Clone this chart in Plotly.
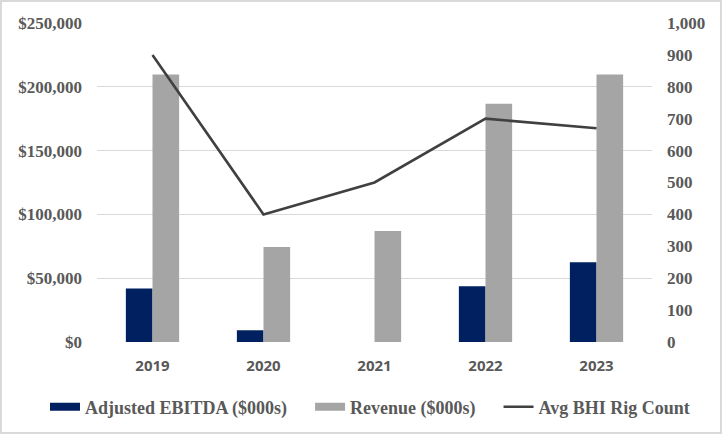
import plotly.graph_objects as go

years = ["2019", "2020", "2021", "2022", "2023"]
ebitda = [42000, 9200, 0, 43600, 62500]
revenue = [209600, 74500, 87000, 186700, 209600]
rig_count = [900, 400, 500, 700, 670]

left_ticks = [0, 50000, 100000, 150000, 200000, 250000]
left_labels = ["$0", "$50,000", "$100,000", "$150,000", "$200,000", "$250,000"]
right_ticks = list(range(0, 1001, 100))
right_labels = ["0", "100", "200", "300", "400", "500", "600", "700", "800", "900", "1,000"]

NAVY = "#002060"
GREY = "#A5A5A5"
LINE = "#404040"
TXT = "#595959"

W, H = 722, 434
L, R, T, B = 97, 70, 23, 92
pw, ph = W - L - R, H - T - B
PAD = "\u00a0" * 4

fig = go.Figure()
fig.add_trace(go.Bar(x=years, y=ebitda, name="Adjusted EBITDA ($000s)",
                     marker=dict(color=NAVY, line=dict(width=0)), showlegend=False))
fig.add_trace(go.Bar(x=years, y=revenue, name="Revenue ($000s)",
                     marker=dict(color=GREY, line=dict(width=0)), showlegend=False))
fig.add_trace(go.Scatter(x=years, y=rig_count, name="Avg BHI Rig Count", yaxis="y2",
                         mode="lines", line=dict(color=LINE, width=2.6), showlegend=False))

# legend entries (no data)
fig.add_trace(go.Scatter(x=[None], y=[None], mode="lines", name="Adjusted EBITDA ($000s)" + PAD,
                         line=dict(color=NAVY, width=8)))
fig.add_trace(go.Scatter(x=[None], y=[None], mode="lines", name="Revenue ($000s)" + PAD,
                         line=dict(color=GREY, width=8)))
fig.add_trace(go.Scatter(x=[None], y=[None], mode="lines", name="Avg BHI Rig Count",
                         line=dict(color=LINE, width=2.5)))

fig.update_layout(
    width=W, height=H,
    margin=dict(l=L, r=R, t=T, b=B, autoexpand=False),
    paper_bgcolor="white", plot_bgcolor="white",
    barmode="group", bargap=0.52, bargroupgap=0,
    xaxis=dict(type="category", showgrid=False, zeroline=False, showline=False, ticks="",
               tickfont=dict(family="Open Sans", size=15, color=TXT, weight="bold"),
               ticklabelstandoff=13),
    yaxis=dict(range=[0, 250000], tickvals=left_ticks, ticktext=left_labels,
               showgrid=True, gridcolor="#D9D9D9", gridwidth=1.3, zeroline=False,
               showline=False, ticks="",
               tickfont=dict(family="Liberation Serif", size=17, color=TXT, weight="bold"),
               ticklabelstandoff=14),
    yaxis2=dict(range=[0, 1000], tickvals=right_ticks, ticktext=right_labels,
                overlaying="y", side="right", showgrid=False, zeroline=False,
                showline=False, ticks="",
                tickfont=dict(family="Liberation Serif", size=17, color=TXT, weight="bold"),
                ticklabelstandoff=14),
    legend=dict(orientation="h", x=(45 - L) / pw, xanchor="left",
                y=(342 - 407) / ph, yanchor="middle",
                font=dict(family="Liberation Serif", size=18, color=TXT, weight="bold"),
                bgcolor="rgba(0,0,0,0)"),
    shapes=[dict(type="rect", xref="paper", yref="paper",
                 x0=(-L + 1) / pw, x1=1 + (R - 1) / pw,
                 y0=(-B + 1) / ph, y1=1 + (T - 1) / ph,
                 line=dict(color="#D9D9D9", width=2), fillcolor="rgba(0,0,0,0)",
                 layer="below")],
)

fig.write_html("out.html", config={"displayModeBar": False},
               post_script="document.body.style.margin='0px';document.body.style.overflow='hidden';")
